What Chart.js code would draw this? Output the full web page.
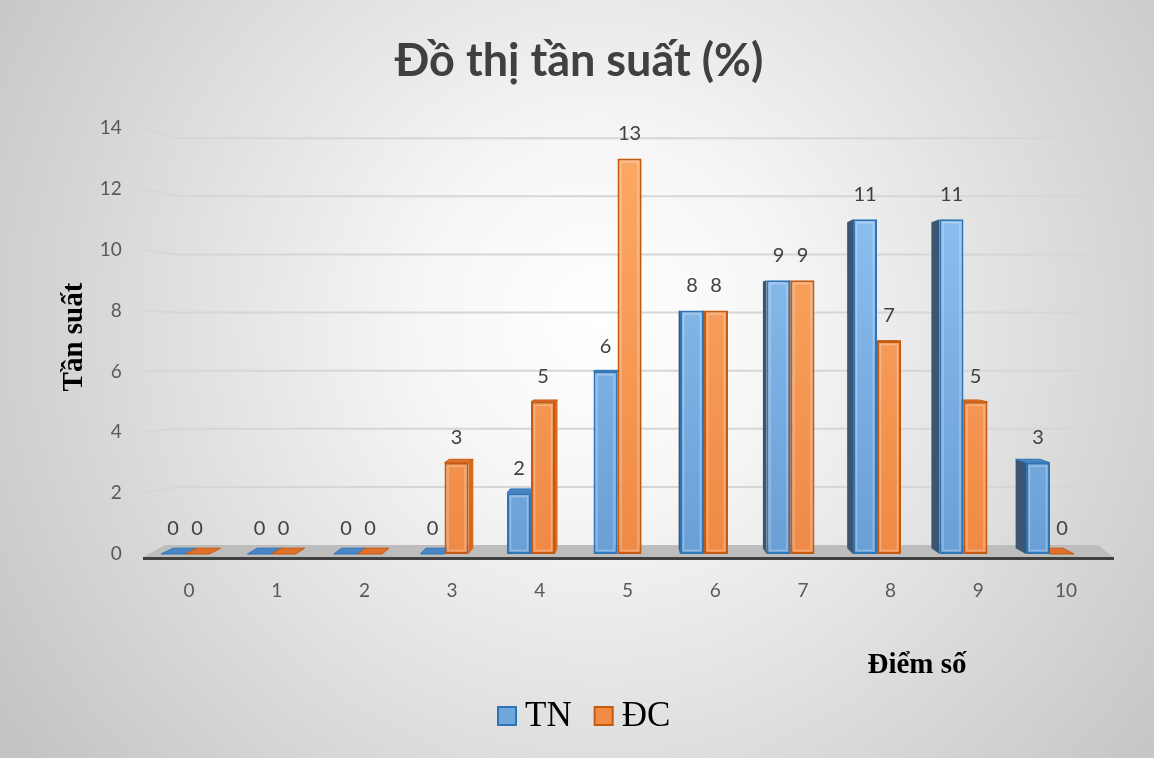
<!DOCTYPE html>
<html>
<head>
<meta charset="utf-8">
<script src="https://cdn.jsdelivr.net/npm/chart.js@4.4.1/dist/chart.umd.min.js"></script>
<style>
  html, body { margin: 0; padding: 0; background: #ffffff; }
  canvas { display: block; }
</style>
</head>
<body>
<canvas id="chart" width="1154" height="758"></canvas>
<script>
// Score categories and frequencies (%) for the two groups
const categories = ['0', '1', '2', '3', '4', '5', '6', '7', '8', '9', '10'];
const tnValues = [0, 0, 0, 0, 2, 6, 8, 9, 11, 11, 3];
const dcValues = [0, 0, 0, 3, 5, 13, 8, 9, 7, 5, 0];
const yTicks = [0, 2, 4, 6, 8, 10, 12, 14];
const seriesNames = ['TN', 'ĐC'];
const chartTitle = 'Đồ thị tần suất (%)';
const yTitle = 'Tần suất';
const xTitle = 'Điểm số';

// Look of each series: front gradient, outline and the shaded faces of the 3D box
const seriesStyle = [
  { top: '#93c6f6', bottom: '#6a9fd5', border: '#2e75b6', leftFace: '#3b5572', rightFace: '#4f82b8', lid: '#4a86c5', key: '#6fa6dc' },
  { top: '#fdaa68', bottom: '#ef8a45', border: '#c55a11', leftFace: '#9e4a12', rightFace: '#d9681c', lid: '#e0702a', key: '#f08c46' }
];

// Simple perspective used for the depth of bars, floor and walls
const VX = 640, VY = 330, K = 0.026;

// The score labels sit a little in front of the bars, so their axis spans a slightly shifted range
const LABEL_MIN = -0.5388, LABEL_MAX = 10.3107;

function frontGradient(style) {
  return (ctx) => {
    const area = ctx.chart.chartArea;
    if (!area) return style.bottom;
    const g = ctx.chart.ctx.createLinearGradient(0, area.top, 0, area.bottom);
    g.addColorStop(0, style.top);
    g.addColorStop(1, style.bottom);
    return g;
  };
}

const backgroundPlugin = {
  id: 'paper',
  beforeDraw(chart) {
    const { ctx, width, height } = chart;
    ctx.save();
    const g = ctx.createRadialGradient(600, 320, 0, 600, 320, 720);
    g.addColorStop(0, '#ffffff');
    g.addColorStop(0.25, '#f6f6f6');
    g.addColorStop(1, '#c4c4c4');
    ctx.fillStyle = g;
    ctx.fillRect(0, 0, width, height);
    ctx.restore();
  }
};

const roomPlugin = {
  id: 'room',
  beforeDatasetsDraw(chart) {
    const { ctx, scales } = chart;
    const y = scales.y;
    const base = y.getPixelForValue(0);
    const wallLeft = 143, wallCorner = 178, wallRight = 1086;
    const backOf = (front) => 545 + (front - base) * 0.955;

    ctx.save();
    // gridlines on the side and back walls
    ctx.strokeStyle = '#d6d6d6';
    ctx.lineWidth = 2;
    yTicks.forEach((v) => {
      if (v === 0) return;
      const f = y.getPixelForValue(v);
      const b = backOf(f);
      ctx.beginPath();
      ctx.moveTo(wallLeft, f);
      ctx.lineTo(wallCorner, b);
      ctx.lineTo(wallRight, b);
      ctx.stroke();
    });

    // floor slab
    ctx.fillStyle = '#bdbdbd';
    ctx.beginPath();
    ctx.moveTo(wallLeft, 557);
    ctx.lineTo(1113, 557);
    ctx.lineTo(1098, 545);
    ctx.lineTo(165, 545);
    ctx.closePath();
    ctx.fill();
    ctx.fillStyle = '#404040';
    ctx.fillRect(wallLeft, 557, 971, 3);

    // side and lid faces of every bar
    chart.data.datasets.forEach((ds, di) => {
      const meta = chart.getDatasetMeta(di);
      const st = seriesStyle[di];
      meta.data.forEach((el) => {
        const xL = el.x - el.width / 2, xR = el.x + el.width / 2;
        const dx = (VX - el.x) * K;
        const dyT = (VY - el.y) * K;
        const dyB = (VY - el.base) * K;
        if (el.y < el.base - 0.5) {
          const sx = dx < 0 ? xL : xR;
          ctx.fillStyle = dx < 0 ? st.leftFace : st.rightFace;
          ctx.beginPath();
          ctx.moveTo(sx, el.y);
          ctx.lineTo(sx + dx, el.y + dyT);
          ctx.lineTo(sx + dx, el.base + dyB);
          ctx.lineTo(sx, el.base);
          ctx.closePath();
          ctx.fill();
        }
        if (dyT < 0) {
          ctx.fillStyle = st.lid;
          ctx.strokeStyle = st.border;
          ctx.lineWidth = 1;
          ctx.beginPath();
          ctx.moveTo(xL, el.y);
          ctx.lineTo(xR, el.y);
          ctx.lineTo(xR + dx, el.y + dyT);
          ctx.lineTo(xL + dx, el.y + dyT);
          ctx.closePath();
          ctx.fill();
          ctx.stroke();
        }
      });
    });
    ctx.restore();
  },
  afterDatasetsDraw(chart) {
    const { ctx } = chart;
    ctx.save();
    // soft inner highlight on bar fronts
    chart.data.datasets.forEach((ds, di) => {
      const meta = chart.getDatasetMeta(di);
      meta.data.forEach((el) => {
        const h = el.base - el.y;
        if (h < 8) return;
        ctx.strokeStyle = 'rgba(255,255,255,0.28)';
        ctx.lineWidth = 1.5;
        ctx.strokeRect(el.x - el.width / 2 + 3.5, el.y + 3.5, el.width - 7, h - 7);
      });
    });
    // value labels above bars
    ctx.fillStyle = '#404040';
    ctx.font = '20px Lato';
    ctx.textAlign = 'center';
    ctx.textBaseline = 'middle';
    chart.data.datasets.forEach((ds, di) => {
      const meta = chart.getDatasetMeta(di);
      meta.data.forEach((el, i) => {
        ctx.fillText(String(ds.data[i]), el.x, el.y - 25);
      });
    });
    ctx.restore();
  }
};

const textPlugin = {
  id: 'texts',
  afterDraw(chart) {
    const { ctx } = chart;
    ctx.save();
    // chart title
    ctx.fillStyle = '#404040';
    ctx.font = 'bold 45px Lato';
    ctx.textAlign = 'center';
    ctx.textBaseline = 'middle';
    ctx.fillText(chartTitle, 579, 61);

    // axis titles
    ctx.fillStyle = '#000000';
    ctx.font = 'bold 29px "Liberation Serif"';
    ctx.fillText(xTitle, 917, 666);
    ctx.save();
    ctx.translate(75, 337);
    ctx.rotate(-Math.PI / 2);
    ctx.fillText(yTitle, 0, 0);
    ctx.restore();

    // legend
    ctx.font = '35px "Liberation Serif"';
    ctx.textAlign = 'left';
    let x = 498;
    seriesNames.forEach((name, i) => {
      const st = seriesStyle[i];
      ctx.fillStyle = st.key;
      ctx.fillRect(x, 707, 18, 18);
      ctx.strokeStyle = st.border;
      ctx.lineWidth = 2;
      ctx.strokeRect(x, 707, 18, 18);
      ctx.fillStyle = '#000000';
      ctx.fillText(name, x + 27, 717);
      x += 27 + ctx.measureText(name).width + 23;
    });
    ctx.restore();
  }
};

new Chart(document.getElementById('chart'), {
  type: 'bar',
  data: {
    labels: categories,
    datasets: [
      {
        label: seriesNames[0],
        data: tnValues,
        backgroundColor: frontGradient(seriesStyle[0]),
        borderColor: seriesStyle[0].border,
        borderWidth: 2,
        borderSkipped: false,
        categoryPercentage: 0.555,
        barPercentage: 1.0
      },
      {
        label: seriesNames[1],
        data: dcValues,
        backgroundColor: frontGradient(seriesStyle[1]),
        borderColor: seriesStyle[1].border,
        borderWidth: 2,
        borderSkipped: false,
        categoryPercentage: 0.555,
        barPercentage: 1.0
      }
    ]
  },
  options: {
    responsive: false,
    animation: false,
    layout: { padding: { left: 0, top: 128, right: 60.75, bottom: 0 } },
    plugins: {
      legend: { display: false },
      title: { display: false },
      tooltip: { enabled: false }
    },
    scales: {
      x: { type: 'category', display: false, offset: true },
      xLabels: {
        type: 'linear',
        position: 'bottom',
        offset: false,
        bounds: 'data',
        min: LABEL_MIN,
        max: LABEL_MAX,
        grid: { display: false, drawTicks: false, offset: false },
        border: { display: false },
        afterBuildTicks(scale) {
          scale.ticks = categories.map((_, i) => ({ value: i }));
        },
        afterFit(scale) { scale.height = 204; },
        ticks: {
          autoSkip: false,
          maxRotation: 0,
          padding: 25,
          color: '#595959',
          font: { family: 'Lato', size: 19 },
          callback: (v) => categories[Math.round(v)]
        }
      },
      y: {
        min: 0,
        max: 14,
        afterBuildTicks(scale) {
          scale.ticks = yTicks.map((v) => ({ value: v }));
        },
        afterFit(scale) { scale.width = 141.75; },
        grid: { display: false, drawTicks: false },
        border: { display: false },
        ticks: {
          padding: 20,
          color: '#595959',
          font: { family: 'Lato', size: 19 }
        }
      }
    }
  },
  plugins: [backgroundPlugin, roomPlugin, textPlugin]
});
</script>
</body>
</html>
